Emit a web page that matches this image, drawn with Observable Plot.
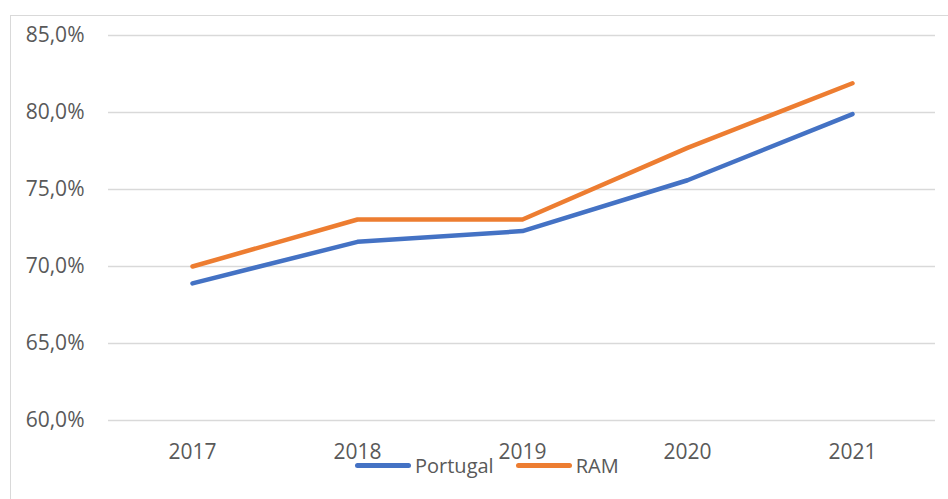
<!DOCTYPE html>
<html>
<head>
<meta charset="utf-8">
<script src="https://cdn.jsdelivr.net/npm/d3@7"></script>
<script src="https://cdn.jsdelivr.net/npm/@observablehq/plot@0.6"></script>
<style>
  html, body { margin: 0; padding: 0; background: #fff; }
  #wrap { position: relative; width: 948px; height: 499px; overflow: hidden; font-family: "Open Sans", "Liberation Sans", sans-serif; }
  #frame { position: absolute; left: 10px; top: 15px; width: 960px; height: 520px; border: 1.5px solid #d9d9d9; box-sizing: border-box; }
  #legend { position: absolute; top: 452px; left: 355px; display: flex; gap: 22px; font-size: 20px; color: #595959; }
  .item { display: flex; align-items: center; gap: 4px; }
  .sw { width: 56px; height: 5px; border-radius: 3px; }
  svg { position: absolute; left: 0; top: 0; }
</style>
</head>
<body>
<div id="wrap"><div id="frame"></div></div>
<script>
const years = ["2017", "2018", "2019", "2020", "2021"];
const portugal = [68.9, 71.6, 72.3, 75.6, 79.9];
const ram = [70.0, 73.05, 73.05, 77.7, 81.9];
const seriesNames = ["Portugal", "RAM"];
const seriesColors = ["#4472C4", "#ED7D31"];
const yTicks = [60, 65, 70, 75, 80, 85];

const data = [
  ...years.map((y, i) => ({year: y, value: portugal[i], series: "Portugal"})),
  ...years.map((y, i) => ({year: y, value: ram[i], series: "RAM"}))
];

const chart = Plot.plot({
  width: 948,
  height: 499,
  marginLeft: 108,
  marginRight: 13,
  marginTop: 35,
  marginBottom: 79,
  style: {fontFamily: '"Open Sans", "Liberation Sans", sans-serif', fontSize: "21px", color: "#595959", background: "transparent"},
  x: {type: "point", domain: years, padding: 0.5, label: null},
  y: {domain: [60, 85], label: null},
  color: {domain: seriesNames, range: seriesColors},
  marks: [
    Plot.gridY(yTicks, {stroke: "#d9d9d9", strokeOpacity: 1, strokeWidth: 1.5}),
    Plot.axisY(yTicks, {tickSize: 0, tickPadding: 24, label: null, tickFormat: d => d.toFixed(1).replace(".", ",") + "%", fill: "#595959", fontSize: 21}),
    Plot.axisX({tickSize: 0, tickPadding: 24, label: null, fill: "#595959", fontSize: 21}),
    Plot.line(data, {x: "year", y: "value", z: "series", stroke: "series", strokeWidth: 4.5, strokeLinecap: "round", strokeLinejoin: "round"})
  ]
});

const wrap = document.getElementById("wrap");
wrap.appendChild(chart);

const legend = document.createElement("div");
legend.id = "legend";
seriesNames.forEach((n, i) => {
  const it = document.createElement("div");
  it.className = "item";
  const sw = document.createElement("div");
  sw.className = "sw";
  sw.style.background = seriesColors[i];
  const t = document.createElement("span");
  t.textContent = n;
  it.appendChild(sw); it.appendChild(t);
  legend.appendChild(it);
});
wrap.appendChild(legend);
</script>
</body>
</html>
